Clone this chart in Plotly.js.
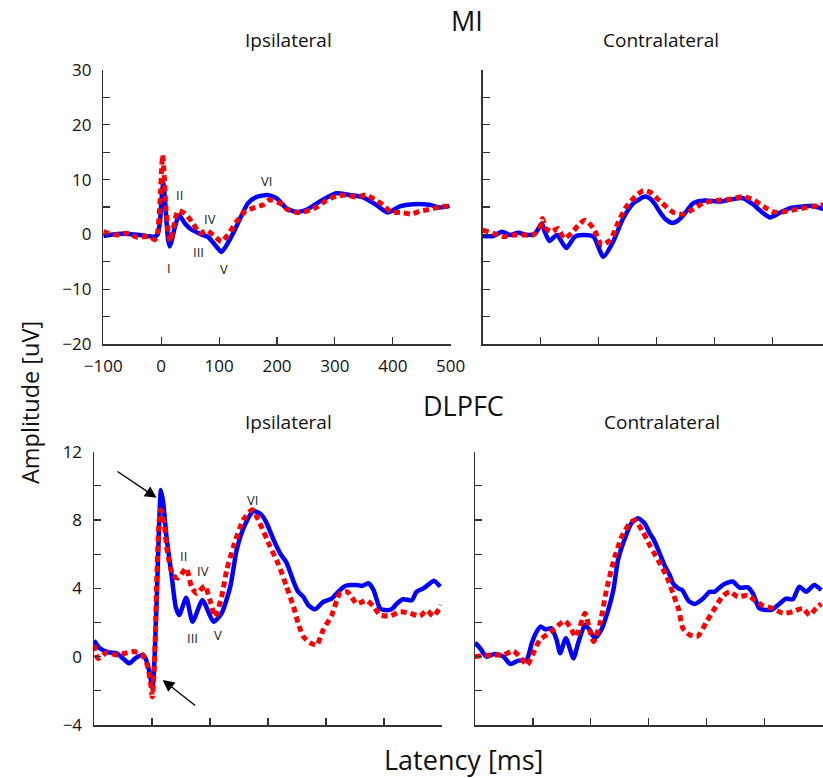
<!DOCTYPE html>
<html>
<head>
<meta charset="utf-8">
<script src="https://cdn.plot.ly/plotly-3.0.1.min.js"></script>
<style>html,body{margin:0;padding:0;background:#fff;}#chart{width:823px;height:778px;}</style>
</head>
<body>
<div id="chart"></div>
<script>
// ---------------- DATA ----------------
// MI, ipsilateral
const miIpsiBlueX = [-100,-71,-37,-11,-6,-2,1,3.5,6,9,12,15,19,24,31,41,52,67,81,93,104,115,127,139,150,164,184,199,216,233,251,274,302,325,348,371,391,412,435,463,481,498];
const miIpsiBlueY = [-0.3,0.1,-0.1,-0.4,0,2.5,7,9.4,7,2.6,-1,-2.2,-0.8,1.5,3.5,2.0,0.9,0.1,-0.5,-1.9,-3.2,-1.6,0.8,3.5,5.7,6.8,7.2,6.6,4.8,4.1,4.5,6.0,7.5,7.2,6.8,5.4,4.0,5.1,5.5,5.4,4.9,5.2];
const miIpsiRedX = [-100,-77,-60,-42,-20,-11,-6,-2,1,2.5,5,8,12,16,21,29,41,55,67,78,90,104,115,130,144,159,176,187,205,219,236,253,271,285,302,320,337,354,368,383,397,415,432,449,466,483,498];
const miIpsiRedY = [0.5,-0.1,0.2,-0.5,-0.4,-1.0,0.5,6,12.5,14.5,11,5,0.5,-1.3,1.2,4.3,3.8,2.0,0.2,0.7,-0.1,-1.3,-0.1,2.3,4.1,4.8,5.4,6.3,5.7,4.5,4.0,4.3,5.1,6.2,7.0,7.2,6.8,7.2,6.4,5.4,4.1,4.0,3.7,4.3,4.6,5.1,5.1];

// MI, contralateral
const miContraBlueX = [-100,-82,-67,-53,-39,-24,-10,2,7,15,28,44,59,73,91,108,125,142,160,180,190,197,206,215,226,235,246,263,283,309,329,349,367,381,395,413,430,453,470,487];
const miContraBlueY = [-0.3,-0.3,0.5,-0.1,0.3,-0.1,0.1,2.0,0.5,-1.2,-0.1,-2.5,-0.4,-0.1,-0.4,-4.1,-1.3,2.9,5.7,6.9,6.4,5.5,4.0,2.8,2.1,2.4,3.5,5.7,6.2,6.0,6.4,6.6,5.4,4.1,3.1,4.0,4.8,5.1,5.2,4.6];
const miContraRedX = [-100,-82,-65,-47,-30,-13,-1,3,9,19,30,40,53,65,76,91,105,120,134,148,163,177,190,206,229,246,263,280,303,326,349,367,384,401,418,436,453,470,487];
const miContraRedY = [0.8,0.2,-0.4,-0.1,-0.1,-0.1,1.4,2.9,1.1,0.5,1.1,-0.7,0.2,1.7,2.6,1.1,-1.9,-1.0,2.3,5.1,6.9,8.0,7.6,6.0,4.0,3.7,4.6,5.7,6.2,6.4,6.9,6.3,5.1,4.1,4.1,4.5,4.8,5.1,5.4];

// DLPFC, ipsilateral
const dlIpsiBlueX = [-100,-90,-75,-61,-50,-39,-29,-15,-8,-2,1,5,10,13,15.5,19.5,25,34,41,47,59,70,87,106,120,135,146,160,175,189,198,209,221,232,244,252,261,270,281,295,310,321,333,353,362,373,382,393,402,413,422,433,448,456,468,476,486,497];
const dlIpsiBlueY = [0.94,0.49,0.26,0.2,-0.1,-0.39,-0.1,0.1,-0.4,-1.36,-1.85,0.4,5.3,8.4,9.76,9.0,7.0,4.7,2.9,2.44,3.45,2.05,3.3,2.05,2.54,4.1,6.25,7.7,8.53,8.3,7.8,6.9,6.05,5.5,4.4,3.8,3.5,3.0,2.77,3.2,3.4,3.8,4.14,4.2,4.14,4.3,3.9,2.83,2.73,2.77,3.1,3.36,3.3,3.8,4.0,4.2,4.45,4.1];
const dlIpsiRedX = [-100,-93,-78,-61,-47,-32,-18,-9,-3,0.6,4,8,12,15,19.5,26,36,45,59,68,77,91,100,109,120,129,140,157,173,186,203,218,232,244,252,261,272,284,295,310,324,337,353,370,382,393,410,428,445,462,474,485,499];
const dlIpsiRedY = [0.68,-0.1,0.24,0.1,0.2,0.3,0.16,-0.4,-1.36,-2.34,-0.6,4.3,7.8,8.6,8.2,6.25,4.78,4.6,5.17,4.1,3.7,4.14,3.3,2.34,3.5,5.1,6.4,8.0,8.6,7.8,6.5,5.4,4.1,2.93,1.96,1.17,0.82,0.68,1.56,2.44,3.7,3.8,3.1,3.3,2.93,2.44,2.38,2.63,2.54,2.38,2.7,2.38,3.0];

// DLPFC, contralateral
const dlContraBlueX = [-100,-91,-80,-66,-51,-39,-25,-11,-2,5,13,22,32,41,47,57,70,78,90,98,107,118,130,139,147,159,170,182,193,202,208,216,228,236,242,251,258,268,279,294,305,314,328,345,357,371,380,391,403,414,426,437,449,460,472,486,498];
const dlContraBlueY = [0.82,0.49,0,0.16,0,-0.43,-0.23,-0.2,0.78,1.37,1.76,1.6,1.66,0.98,0.2,1.08,-0.1,0.78,1.86,1.56,1.08,1.56,2.73,3.9,5.66,6.93,7.8,8.1,7.8,7.2,6.9,6.3,5.3,4.8,4.3,4.0,3.9,3.3,3.08,3.4,3.8,3.8,4.2,4.4,4.04,4.06,3.7,2.83,2.73,2.77,3.1,3.4,3.36,4.1,3.8,4.2,3.9];
const dlContraRedX = [-100,-86,-68,-51,-34,-20,-10,0.5,12,26,41,55,64,74,90,98,105,116,127,139,153,167,176,190,202,216,231,242,252,259,271,285,300,314,328,340,354,371,383,397,414,432,449,466,478,489,498];
const dlContraRedY = [0,0.06,0.1,0.1,0.33,-0.1,-0.49,0.2,0.98,1.33,1.76,2.1,1.76,1.17,2.54,1.56,0.88,1.96,3.9,5.56,7.0,7.8,8.0,7.3,6.5,5.66,4.7,3.7,2.73,1.66,1.27,1.21,2.05,2.83,3.55,3.8,3.5,3.6,3.3,3.0,2.83,2.54,2.63,2.83,2.44,2.83,3.1];

// Ticks
const latencyTicks = [-100,0,100,200,300,400,500];
const latencyTickText = ['\u2212100','0','100','200','300','400','500'];
const miAmpTicks = [-20,-15,-10,-5,0,5,10,15,20,25,30];
const miAmpTickText = ['\u221220','','\u221210','','0','','10','','20','','30'];
const dlAmpTicks = [-4,-2,0,2,4,6,8,10,12];
const dlAmpTickText = ['\u22124','','0','','4','','8','','12'];

// Peak labels
const miPeakNames = ['I','II','III','IV','V','VI'];
const miPeakX = [13.3,31,63.8,84,108.6,181.7];
const miPeakY = [-6.2,7.2,-3.2,2.9,-6.4,9.8];
const dlPeakNames = ['II','III','IV','V','VI'];
const dlPeakX = [54,69.5,88.4,114,173];
const dlPeakY = [5.9,1.1,5.0,1.27,9.17];

// ---------------- LAYOUT HELPERS ----------------
const W = 823, H = 778;
const fx = p => p / W;
const fy = p => 1 - p / H;
const FONT = '"Open Sans", "DejaVu Sans", sans-serif';
const BLUE = '#0000ff', RED = '#ff0000';

function blueTrace(x, y, xa, ya) {
  return {x, y, xaxis: xa, yaxis: ya, type: 'scatter', mode: 'lines',
    line: {color: BLUE, width: 4.5, shape: 'spline', smoothing: 0.6}, hoverinfo: 'skip'};
}
function redTrace(x, y, xa, ya) {
  return {x, y, xaxis: xa, yaxis: ya, type: 'scatter', mode: 'lines',
    line: {color: RED, width: 5, dash: '6px,4px', shape: 'spline', smoothing: 0.6}, hoverinfo: 'skip'};
}

const data = [
  blueTrace(miIpsiBlueX, miIpsiBlueY, 'x', 'y'),
  redTrace(miIpsiRedX, miIpsiRedY, 'x', 'y'),
  blueTrace(miContraBlueX, miContraBlueY, 'x2', 'y2'),
  redTrace(miContraRedX, miContraRedY, 'x2', 'y2'),
  blueTrace(dlIpsiBlueX, dlIpsiBlueY, 'x3', 'y3'),
  redTrace(dlIpsiRedX, dlIpsiRedY, 'x3', 'y3'),
  blueTrace(dlContraBlueX, dlContraBlueY, 'x4', 'y4'),
  redTrace(dlContraRedX, dlContraRedY, 'x4', 'y4')
];

const axBase = {
  showline: true, linecolor: '#333', linewidth: 1.5, mirror: false,
  ticks: 'inside', ticklen: 7, tickwidth: 1.2, tickcolor: '#333',
  showgrid: false, zeroline: false, fixedrange: true,
  tickfont: {family: FONT, size: 17, color: '#111'}
};

const layout = {
  width: W, height: H,
  margin: {l: 0, r: 0, t: 0, b: 0},
  paper_bgcolor: '#fff', plot_bgcolor: 'rgba(0,0,0,0)',
  showlegend: false,
  font: {family: FONT, color: '#111'},
  xaxis: Object.assign({}, axBase, {domain: [fx(103.3), fx(450.7)], range: [-100, 500], anchor: 'y',
    tickmode: 'array', tickvals: latencyTicks, ticktext: latencyTickText, ticklabelstandoff: 6}),
  yaxis: Object.assign({}, axBase, {domain: [fy(344), fy(70)], range: [-20, 30], anchor: 'x',
    tickmode: 'array', tickvals: miAmpTicks, ticktext: miAmpTickText, ticklabelstandoff: 7}),
  xaxis2: Object.assign({}, axBase, {domain: [fx(482.7), 1], range: [-100, 486.7], anchor: 'y2',
    tickmode: 'array', tickvals: latencyTicks, showticklabels: false}),
  yaxis2: Object.assign({}, axBase, {domain: [fy(344), fy(70)], range: [-20, 30], anchor: 'x2',
    tickmode: 'array', tickvals: miAmpTicks, showticklabels: false}),
  xaxis3: Object.assign({}, axBase, {domain: [fx(94), fx(442)], range: [-100, 500], anchor: 'y3',
    tickmode: 'array', tickvals: latencyTicks, showticklabels: false}),
  yaxis3: Object.assign({}, axBase, {domain: [fy(725), fy(451.7)], range: [-4, 12], anchor: 'x3',
    tickmode: 'array', tickvals: dlAmpTicks, ticktext: dlAmpTickText, ticklabelstandoff: 7}),
  xaxis4: Object.assign({}, axBase, {domain: [fx(475), 1], range: [-100, 501], anchor: 'y4',
    tickmode: 'array', tickvals: latencyTicks, showticklabels: false}),
  yaxis4: Object.assign({}, axBase, {domain: [fy(725), fy(451.7)], range: [-4, 12], anchor: 'x4',
    tickmode: 'array', tickvals: dlAmpTicks, showticklabels: false}),
  annotations: []
};

function paperText(text, px, py, size, extra) {
  return Object.assign({text, x: fx(px), y: fy(py), xref: 'paper', yref: 'paper',
    xanchor: 'center', yanchor: 'middle', showarrow: false,
    font: {family: FONT, size, color: '#111'}}, extra || {});
}
layout.annotations.push(
  paperText('MI', 467, 20, 27),
  paperText('Ipsilateral', 288, 40, 19),
  paperText('Contralateral', 661, 40, 19),
  paperText('DLPFC', 463, 405, 27),
  paperText('Ipsilateral', 288, 422, 19),
  paperText('Contralateral', 662, 422, 19),
  paperText('Amplitude [uV]', 30, 403, 23.5, {textangle: -90}),
  paperText('Latency [ms]', 463, 759, 27)
);
miPeakNames.forEach((t, i) => layout.annotations.push({text: t, x: miPeakX[i], y: miPeakY[i],
  xref: 'x', yref: 'y', showarrow: false, font: {family: FONT, size: 13, color: '#222'}}));
dlPeakNames.forEach((t, i) => layout.annotations.push({text: t, x: dlPeakX[i], y: dlPeakY[i],
  xref: 'x3', yref: 'y3', showarrow: false, font: {family: FONT, size: 13, color: '#222'}}));
// arrows on DLPFC ipsilateral
layout.annotations.push(
  {text: '', x: 8, y: 9.3, xref: 'x3', yref: 'y3', ax: -62, ay: 10.9, axref: 'x3', ayref: 'y3',
   showarrow: true, arrowhead: 2, arrowsize: 1.8, arrowwidth: 1.3, arrowcolor: '#000'},
  {text: '', x: 18.4, y: -1.36, xref: 'x3', yref: 'y3', ax: 77, ay: -2.93, axref: 'x3', ayref: 'y3',
   showarrow: true, arrowhead: 2, arrowsize: 1.8, arrowwidth: 1.3, arrowcolor: '#000'}
);

Plotly.newPlot('chart', data, layout, {displayModeBar: false, staticPlot: true});
</script>
</body>
</html>
